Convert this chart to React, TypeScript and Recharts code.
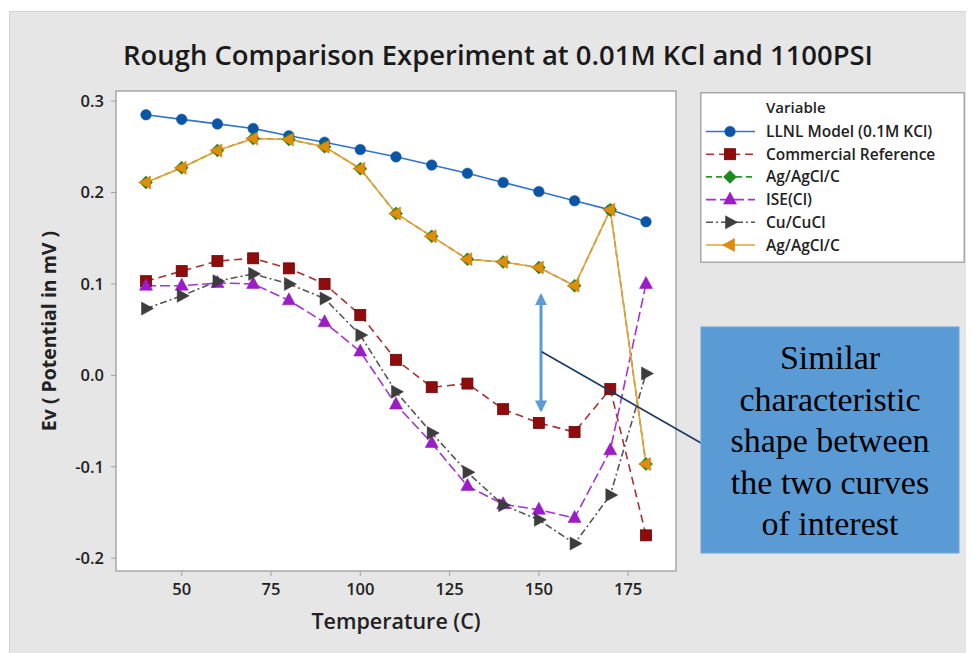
import React from 'react';
import { LineChart, Line, XAxis, YAxis, ReferenceArea, Legend } from 'recharts';

const temps = [40, 50, 60, 70, 80, 90, 100, 110, 120, 130, 140, 150, 160, 170, 180];
const llnlModel = [0.285, 0.280, 0.275, 0.270, 0.262, 0.255, 0.247, 0.239, 0.230, 0.221, 0.211, 0.201, 0.191, 0.181, 0.168];
const commercialRef = [0.103, 0.114, 0.125, 0.128, 0.117, 0.100, 0.066, 0.017, -0.013, -0.009, -0.037, -0.052, -0.062, -0.015, -0.175];
const agAgClGreen = [0.211, 0.227, 0.246, 0.259, 0.258, 0.250, 0.226, 0.177, 0.152, 0.127, 0.124, 0.118, 0.098, 0.181, -0.097];
const iseCl = [0.098, 0.098, 0.101, 0.100, 0.082, 0.058, 0.026, -0.032, -0.074, -0.121, -0.141, -0.147, -0.156, -0.082, 0.100];
const cuCuCl = [0.073, 0.087, 0.103, 0.111, 0.100, 0.084, 0.044, -0.018, -0.063, -0.106, -0.142, -0.158, -0.184, -0.131, 0.002];
const agAgClOrange = [0.211, 0.227, 0.246, 0.259, 0.258, 0.250, 0.226, 0.177, 0.152, 0.127, 0.124, 0.118, 0.098, 0.181, -0.097];

const xTicks = [50, 75, 100, 125, 150, 175];
const yTicks = [-0.2, -0.1, 0.0, 0.1, 0.2, 0.3];

const data = temps.map((t, i) => ({
  t,
  llnl: llnlModel[i],
  comm: commercialRef[i],
  agGreen: agAgClGreen[i],
  ise: iseCl[i],
  cu: cuCuCl[i],
  agOrange: agAgClOrange[i],
}));

type Kind = 'circle' | 'square' | 'diamond' | 'triUp' | 'triRight' | 'triLeft';

interface SeriesDef {
  key: string;
  name: string;
  line: string;
  fill: string;
  edge: string;
  dash?: string;
  kind: Kind;
}

const series: SeriesDef[] = [
  { key: 'llnl', name: 'LLNL Model (0.1M KCl)', line: '#3275c8', fill: '#0b55a6', edge: '#0b55a6', kind: 'circle' },
  { key: 'comm', name: 'Commercial Reference', line: '#a83232', fill: '#900c0c', edge: '#6a0505', dash: '8 5', kind: 'square' },
  { key: 'agGreen', name: 'Ag/AgCl/C', line: '#2a992a', fill: '#1b8a1b', edge: '#137013', dash: '6 4', kind: 'diamond' },
  { key: 'ise', name: 'ISE(Cl)', line: '#a633d1', fill: '#9c1cc8', edge: '#8a12b5', dash: '10 4', kind: 'triUp' },
  { key: 'cu', name: 'Cu/CuCl', line: '#555555', fill: '#3d3d3d', edge: '#333333', dash: '7 3 2 3', kind: 'triRight' },
  { key: 'agOrange', name: 'Ag/AgCl/C', line: '#e8a036', fill: '#df8d0b', edge: '#c97c06', kind: 'triLeft' },
];

function Marker({ kind, cx, cy, fill, edge }: { kind: Kind; cx: number; cy: number; fill: string; edge: string }) {
  if (cx == null || cy == null || isNaN(cx) || isNaN(cy)) return null;
  switch (kind) {
    case 'circle':
      return <circle cx={cx} cy={cy} r={5.3} fill={fill} stroke={edge} strokeWidth={0.5} />;
    case 'square':
      return <rect x={cx - 5.5} y={cy - 5.5} width={11} height={11} fill={fill} stroke={edge} strokeWidth={0.8} />;
    case 'diamond':
      return <polygon points={`${cx},${cy - 6.5} ${cx + 6.5},${cy} ${cx},${cy + 6.5} ${cx - 6.5},${cy}`} fill={fill} stroke={edge} strokeWidth={0.5} />;
    case 'triUp':
      return <polygon points={`${cx},${cy - 7.5} ${cx + 6.5},${cy + 4.5} ${cx - 6.5},${cy + 4.5}`} fill={fill} stroke={edge} strokeWidth={0.5} />;
    case 'triRight':
      return <polygon points={`${cx + 7.5},${cy} ${cx - 4.5},${cy - 6.5} ${cx - 4.5},${cy + 6.5}`} fill={fill} stroke={edge} strokeWidth={0.5} />;
    case 'triLeft':
      return <polygon points={`${cx - 7.5},${cy} ${cx + 4.5},${cy - 6.5} ${cx + 4.5},${cy + 6.5}`} fill={fill} stroke={edge} strokeWidth={0.5} />;
  }
  return null;
}

const FONT = '"Open Sans", "Noto Sans", sans-serif';
const TEXT = '#222222';

function LegendBox() {
  const w = 265;
  const h = 171;
  return (
    <svg width={w} height={h} style={{ display: 'block' }}>
      <rect x={0.75} y={0.75} width={w - 1.5} height={h - 1.5} fill="#ffffff" stroke="#a8a8a8" strokeWidth={1.5} />
      <text x={66} y={21} fontFamily={FONT} fontWeight={600} fontSize={15} fill={TEXT}>Variable</text>
      {series.map((s, i) => {
        const y = 39.5 + i * 22.7;
        return (
          <g key={s.key + i}>
            <line x1={6} y1={y} x2={55} y2={y} stroke={s.line} strokeWidth={1.6} strokeDasharray={s.dash} />
            <Marker kind={s.kind} cx={30} cy={y} fill={s.fill} edge={s.edge} />
            <text x={66} y={y + 5.5} fontFamily={FONT} fontWeight={600} fontSize={15.5} fill={TEXT}>{s.name}</text>
          </g>
        );
      })}
    </svg>
  );
}

const YLabel = (props: any) => {
  const vb = props.viewBox || { y: 83, height: 480 };
  const cx = 40;
  const cy = vb.y + vb.height / 2;
  return (
    <text x={cx} y={cy} transform={`rotate(-90 ${cx} ${cy})`} textAnchor="middle" dominantBaseline="central"
      fontFamily={FONT} fontWeight={700} fontSize={19.5} fill={TEXT}>
      Ev ( Potential in mV )
    </text>
  );
};

const XLabel = (props: any) => {
  const vb = props.viewBox || { x: 108, width: 560 };
  const cx = vb.x + vb.width / 2;
  return (
    <text x={cx} y={621} textAnchor="middle" fontFamily={FONT} fontWeight={600} fontSize={21.5} fill={TEXT}>
      Temperature (C)
    </text>
  );
};

export default function App() {
  const W = 966;
  const H = 645;
  const xDomain: [number, number] = [31.6, 188.4];
  const yDomain: [number, number] = [-0.214, 0.311];
  return (
    <div style={{ position: 'relative', width: W, height: H, background: '#ffffff' }}>
      <div style={{ position: 'absolute', left: 1, top: 3, right: 0, bottom: 0, background: '#e6e6e6', borderTop: '1px solid #d2d2d2', borderLeft: '1px solid #d2d2d2' }} />
      <div style={{ position: 'absolute', left: 0, top: 0 }}>
        <LineChart width={W} height={H} data={data} margin={{ top: 83, right: 298, bottom: 52, left: 48 }}>
          <ReferenceArea x1={xDomain[0]} x2={xDomain[1]} y1={yDomain[0]} y2={yDomain[1]} fill="#ffffff" fillOpacity={1} stroke="#a8a8a8" strokeWidth={1.5} ifOverflow="visible" />
          <XAxis dataKey="t" type="number" domain={xDomain} ticks={xTicks} allowDataOverflow axisLine={false}
            tickLine={{ stroke: '#a0a0a0' }} tickSize={5} tickMargin={7} height={30}
            tick={{ fill: TEXT, fontFamily: FONT, fontWeight: 600, fontSize: 16.5 }} label={<XLabel />} />
          <YAxis type="number" domain={yDomain} ticks={yTicks} allowDataOverflow axisLine={false}
            tickLine={{ stroke: '#a0a0a0' }} tickSize={5} tickMargin={7} width={60}
            tickFormatter={(v: number) => v.toFixed(1)}
            tick={{ fill: TEXT, fontFamily: FONT, fontWeight: 600, fontSize: 16.5 }} label={<YLabel />} />
          {series.map((s) => (
            <Line key={s.key} dataKey={s.key} name={s.name} type="linear" stroke={s.line} strokeWidth={1.6}
              strokeDasharray={s.dash} isAnimationActive={false}
              dot={(p: any) => <Marker key={`${s.key}-${p.index}`} kind={s.kind} cx={p.cx} cy={p.cy} fill={s.fill} edge={s.edge} />}
              activeDot={false} />
          ))}
          <Legend layout="vertical" align="center" verticalAlign="middle"
            wrapperStyle={{ position: 'absolute', left: 692, top: 84, width: 265, height: 171 }}
            content={() => <LegendBox />} />
        </LineChart>
      </div>
      <svg width={W} height={H} style={{ position: 'absolute', left: 0, top: 0, pointerEvents: 'none' }}>
        <defs>
          <marker id="ah" viewBox="0 0 10 10" refX="8" refY="5" markerWidth="4" markerHeight="4" orient="auto-start-reverse">
            <path d="M0,0 L10,5 L0,10 z" fill="#5b9bd5" />
          </marker>
        </defs>
        <text x={490} y={57} textAnchor="middle" fontFamily={FONT} fontWeight={600} fontSize={27} fill="#1a1a1a"
          textLength={750} lengthAdjust="spacingAndGlyphs">
          Rough Comparison Experiment at 0.01M KCl and 1100PSI
        </text>
        <line x1={533} y1={287.5} x2={533} y2={402} stroke="#5b9bd5" strokeWidth={3} markerStart="url(#ah)" markerEnd="url(#ah)" />
        <line x1={533.7} y1={343.7} x2={693} y2={435} stroke="#1f3864" strokeWidth={1.6} />
        <rect x={693} y={319} width={258} height={226} fill="#5b9bd5" stroke="#6aa6dc" strokeWidth={1} />
        {['Similar', 'characteristic', 'shape between', 'the two curves', 'of interest'].map((t, i) => (
          <text key={i} x={822} y={361 + i * 41.5} textAnchor="middle" fontFamily='"Liberation Serif", "Times New Roman", serif'
            fontSize={34} fill="#000000">{t}</text>
        ))}
      </svg>
    </div>
  );
}
